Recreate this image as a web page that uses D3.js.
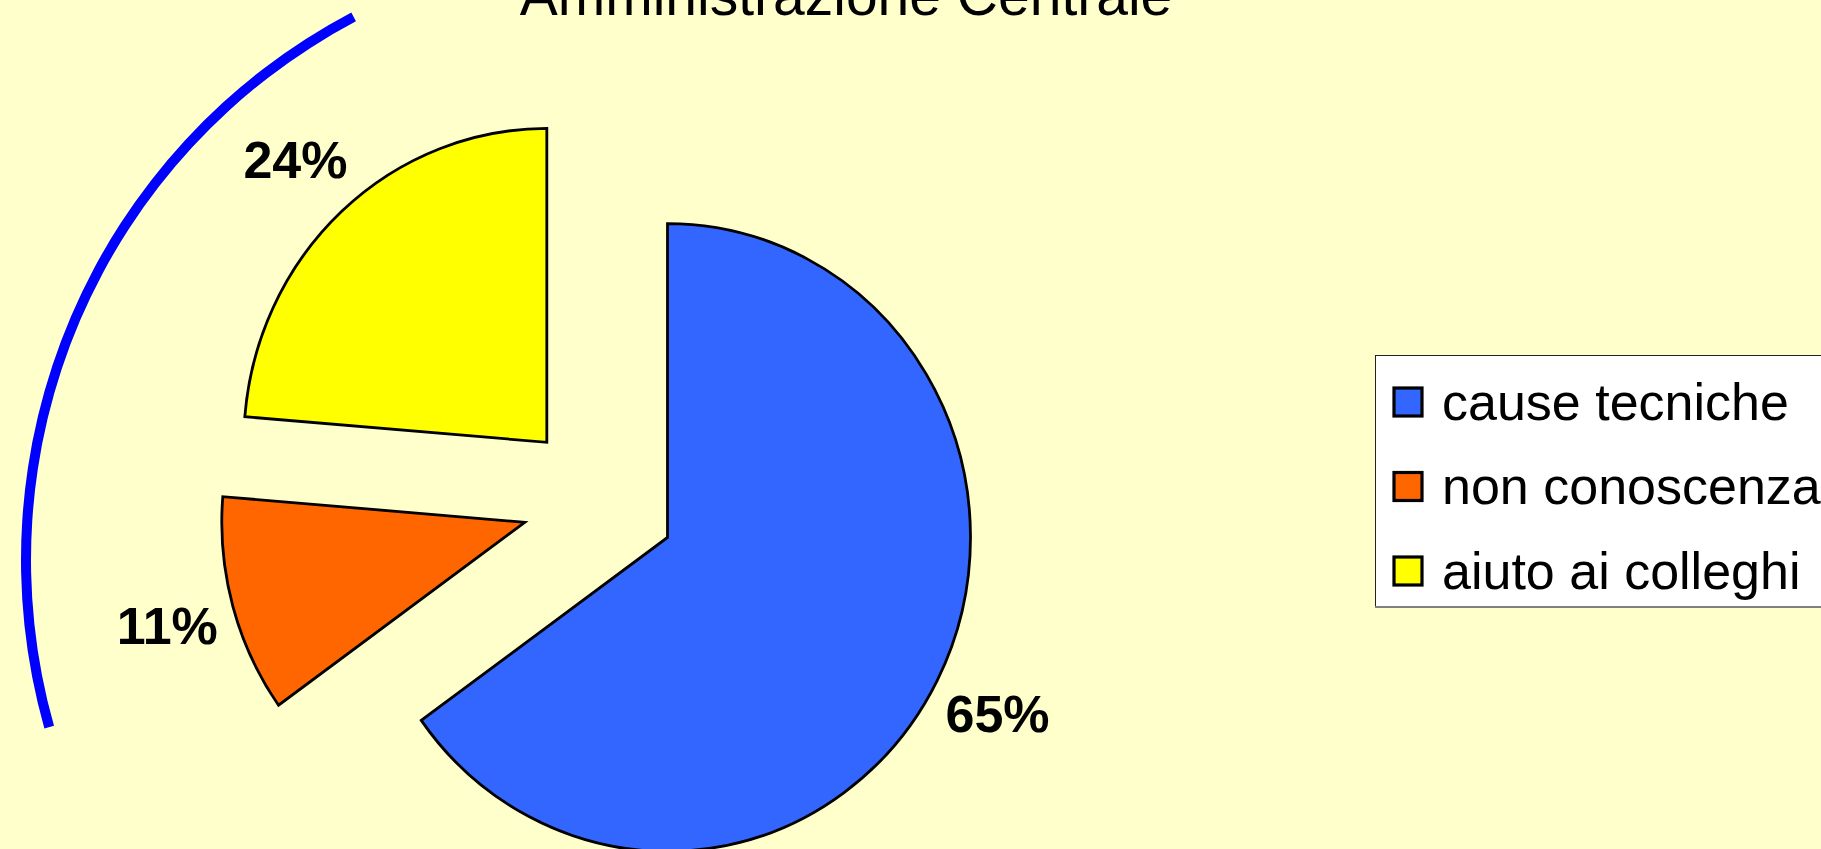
<!DOCTYPE html>
<html><head><meta charset="utf-8">
<script src="https://cdn.jsdelivr.net/npm/d3@7"></script>
<style>html,body{margin:0;padding:0;background:#FFFFCC;overflow:hidden}</style>
</head><body><svg id="c" width="1821" height="849"></svg>
<script>
const categories = ["cause tecniche", "non conoscenza", "aiuto ai colleghi"];
const values = [65.1, 11.2, 23.7];
const colors = ["#3366FF", "#FF6600", "#FFFF00"];
const title = "Amministrazione Centrale";

const W = 1821, H = 849;
const FONT = "Liberation Sans, Arial, Helvetica, sans-serif";
const svg = d3.select("#c");
svg.append("rect").attr("width", W).attr("height", H).attr("fill", "#FFFFCC");

// decorative blue arc on the left
const deg = Math.PI / 180;
svg.append("path")
  .attr("transform", "translate(640,560)")
  .attr("d", d3.arc()({innerRadius: 609, outerRadius: 619, startAngle: -105.8 * deg, endAngle: -27.8 * deg}))
  .attr("fill", "#0000FF");

// title (partly cut at the top)
svg.append("text")
  .attr("x", 846).attr("y", 15)
  .attr("text-anchor", "middle")
  .attr("font-family", FONT).attr("font-size", 57)
  .attr("fill", "#000")
  .text(title);

// pie
const R = 303, sy = 1.036, explode = 77, labelDist = 448;
const cx = 599, cy = 501;
const g = svg.append("g").attr("transform", `translate(${cx},${cy}) scale(1,${sy})`);
const pieData = d3.pie().sort(null).value(d => d)(values);
const arc = d3.arc().innerRadius(0).outerRadius(R);
const mid = d => (d.startAngle + d.endAngle) / 2;

g.selectAll("path.slice").data(pieData).join("path")
  .attr("class", "slice")
  .attr("transform", d => `translate(${Math.sin(mid(d)) * explode},${-Math.cos(mid(d)) * explode})`)
  .attr("d", arc)
  .attr("fill", (d, i) => colors[i])
  .attr("stroke", "#000")
  .attr("stroke-width", 2.8)
  .attr("stroke-linejoin", "miter")
  .attr("vector-effect", "non-scaling-stroke");

const total = d3.sum(values);
const fmt = v => Math.round(v / total * 100) + "%";
svg.selectAll("text.lbl").data(pieData).join("text")
  .attr("class", "lbl")
  .attr("x", d => cx + Math.sin(mid(d)) * labelDist)
  .attr("y", d => cy - Math.cos(mid(d)) * labelDist * sy)
  .attr("dy", "0.36em")
  .attr("text-anchor", "middle")
  .attr("font-family", FONT).attr("font-size", 52).attr("font-weight", "bold")
  .attr("fill", "#000")
  .text(d => fmt(d.value));

// legend
const lx = 1375, ly = 355, lh = 251;
svg.append("rect").attr("x", lx + 0.5).attr("y", ly + 0.5).attr("width", 520).attr("height", lh)
  .attr("fill", "#FFFFFF").attr("stroke", "#222").attr("stroke-width", 1);
svg.append("line").attr("x1", lx).attr("x2", W).attr("y1", ly + lh + 1).attr("y2", ly + lh + 1)
  .attr("stroke", "#808080").attr("stroke-width", 2);
const rowY = d3.scalePoint().domain(categories).range([402, 571]);
const items = svg.selectAll("g.leg").data(categories).join("g")
  .attr("class", "leg")
  .attr("transform", d => `translate(0,${rowY(d)})`);
items.append("rect")
  .attr("x", 1394).attr("y", -14).attr("width", 28).attr("height", 28)
  .attr("fill", (d, i) => colors[i]).attr("stroke", "#000").attr("stroke-width", 3.2);
items.append("text")
  .attr("x", 1442).attr("y", 0).attr("dy", "0.34em")
  .attr("font-family", FONT).attr("font-size", 52).attr("fill", "#000")
  .text(d => d);
</script>
</body></html>
